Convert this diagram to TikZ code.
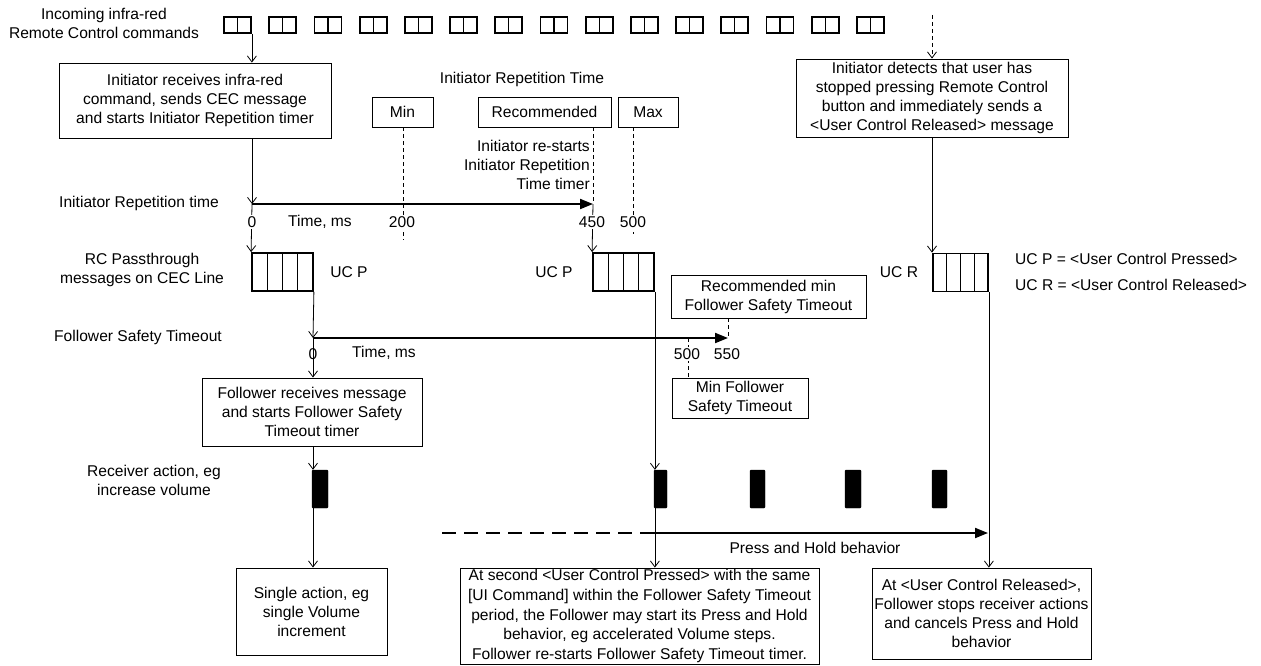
\documentclass[tikz,border=0pt]{standalone}
\usepackage{fontspec}
\setmainfont{Liberation Sans}
\usetikzlibrary{arrows.meta,calc}
\tikzset{
  txt/.style={font=\fontsize{15.6}{19}\selectfont, inner sep=0pt},
  box/.style={draw, line width=0.9pt, align=center, inner sep=0pt, font=\fontsize{15.6}{19}\selectfont},
  conn/.style={line width=0.8pt, -{Straight Barb[length=6pt,width=9pt]}},
  timearrow/.style={line width=2pt, -{Triangle[length=13pt,width=10pt]}},
  dashline/.style={line width=0.8pt, dash pattern=on 4pt off 3pt},
  tick/.style={txt, fill=white, inner sep=1pt},
  irbox/.style={draw, line width=1.8pt, minimum width=27, minimum height=16, inner sep=0pt,
    path picture={\draw[line width=1.2pt] (path picture bounding box.north) -- (path picture bounding box.south);}},
  ucbox/.style={draw, line width=1.8pt, minimum width=61, minimum height=38, inner sep=0pt,
    path picture={\foreach \f in {0.25,0.5,0.75}
      \draw[line width=1pt] ($(path picture bounding box.north west)!\f!(path picture bounding box.north east)$) --
      ($(path picture bounding box.south west)!\f!(path picture bounding box.south east)$);}},
  blk/.style={fill=black, draw=black, rounded corners=1pt, minimum height=38, inner sep=0pt}
}
\begin{document}
\begin{tikzpicture}[x=1pt,y=-1pt]
\useasboundingbox (0,0) rectangle (1261,666);

% left labels
\node[txt, align=center] (lblir) at (104,23) {Incoming infra-red\\Remote Control commands};
\node[txt] (lblirt) at (139,203) {Initiator Repetition time};
\node[txt, align=center] (lblrc) at (142,270) {RC Passthrough\\messages on CEC Line};
\node[txt] (lblfst) at (138,337) {Follower Safety Timeout};
\node[txt, align=center] (lblrx) at (154,480) {Receiver action, eg\\increase volume};

% IR commands
\foreach \i in {0,...,14}
  \node[irbox] (ir\i) at ({237.5+45.2*\i},25) {};

% initiator box
\node[box, minimum width=272, minimum height=75] (initb) at (195,100.5)
  {Initiator receives infra-red\\command, sends CEC message\\and starts Initiator Repetition timer};
\draw[conn] (ir0.south east) -- (initb.north -| ir0.south east);

% initiator repetition timeline
\coordinate (t0) at (252,204);
\coordinate (t450) at (593,204);
\coordinate (m200) at (403,240);
\coordinate (m500) at (633,234);
\node[txt] (irtitle) at (522,79) {Initiator Repetition Time};
\node[box, minimum width=61, minimum height=30] (minb) at (402.5,112) {Min};
\node[box, minimum width=133, minimum height=30] (recb) at (544.5,112) {Recommended};
\node[box, minimum width=60, minimum height=30] (maxb) at (648,112) {Max};
\draw[dashline] (minb.south -| m200) -- (m200);
\draw[dashline] (recb.south -| t450) -- (t450);
\draw[dashline] (maxb.south -| m500) -- (m500);
\draw[conn] (initb.south -| t0) -- (t0);
\draw[timearrow] (t0) -- (t450);
\node[txt, align=right, anchor=east] (restart) at (590,165) {Initiator re-starts\\Initiator Repetition\\Time timer};

% CEC messages
\node[ucbox] (uc1) at (282.5,272) {};
\draw[line width=2.6pt] ([xshift=1pt]uc1.north west) -- ([xshift=1pt]uc1.south west);
\node[ucbox] (uc2) at (623.5,272) {};
\node[ucbox, minimum width=55] (uc3) at (960.5,272.5) {};
\draw[conn] (t0) -- (uc1.north west);
\draw[conn] (t450) -- (uc2.north west);

\node[tick] (l0) at (252,222) {0};
\node[txt] (lms) at (320,222) {Time, ms};
\node[tick] (l200) at (402,222) {200};
\node[tick] (l450) at (592,222) {450};
\node[tick] (l500) at (633,222) {500};

\node[txt] (ucp1) at (349,272) {UC P};
\node[txt] (ucp2) at (554,272) {UC P};
\node[txt] (ucr) at (899,272) {UC R};
\node[txt, anchor=west] (leg1) at (1015,259) {UC P = <User Control Pressed>};
\node[txt, anchor=west] (leg2) at (1015,285) {UC R = <User Control Released>};

% initiator detects
\node[box, minimum width=272, minimum height=78] (detb) at (932,98)
  {Initiator detects that user has\\stopped pressing Remote Control\\button and immediately sends a\\<User Control Released> message};
\coordinate (irend) at (932,15);
\draw[dashline, -{Straight Barb[length=6pt,width=9pt]}] (irend) -- (detb.north);
\draw[conn] (detb.south) -- (detb.south |- uc3.north);

% follower safety timeout
\coordinate (f0) at (313,338);
\coordinate (f550) at (728,338);
\coordinate (f500) at (688,338);
\draw[conn] (uc1.south east) -- (f0);
\draw[timearrow] (f0) -- (f550);
\node[box, minimum width=195, minimum height=43] (recminb) at (768.5,296.5) {Recommended min\\Follower Safety Timeout};
\node[box, minimum width=136, minimum height=40] (minfb) at (740,398) {Min Follower\\Safety Timeout};
\draw[dashline] (recminb.south -| f550) -- (f550);
\draw[dashline] (f500) -- (minfb.north -| f500);
\node[tick] (lf0) at (313,354) {0};
\node[txt] (lfms) at (384,353) {Time, ms};
\node[tick] (lf500) at (687,354) {500};
\node[tick] (lf550) at (727,354) {550};

\node[box, minimum width=220, minimum height=68] (follb) at (312,412)
  {Follower receives message\\and starts Follower Safety\\Timeout timer};
\draw[conn] (f0) -- (follb.north -| f0);

% receiver actions
\node[blk, minimum width=16] (b1) at (320,489) {};
\node[blk, minimum width=13] (b2) at (660.5,489) {};
\node[blk, minimum width=15] (b3) at (757.5,489) {};
\node[blk, minimum width=16] (b4) at (853,489) {};
\node[blk, minimum width=15] (b5) at (939.5,489) {};

\node[box, minimum width=151, minimum height=87] (single) at (311.5,611.5)
  {Single action, eg\\single Volume\\increment};
\node[box, minimum width=359, minimum height=96, font=\fontsize{15.6}{19.6}\selectfont] (centb) at (639.5,616)
  {At second <User Control Pressed> with the same\\[0pt][UI Command] within the Follower Safety Timeout\\period, the Follower may start its Press and Hold\\behavior, eg accelerated Volume steps.\\Follower re-starts Follower Safety Timeout timer.};
\node[box, minimum width=219, minimum height=91] (relb) at (981.5,613.5)
  {At <User Control Released>,\\Follower stops receiver actions\\and cancels Press and Hold\\behavior};

\draw[conn] (follb.south -| f0) -- (b1.north -| f0);
\draw[conn] (b1.south -| f0) -- (single.north -| f0);
\draw[conn] (uc2.south east) -- (b2.north -| uc2.south east);
\draw[conn] (b2.south -| uc2.south east) -- (centb.north -| uc2.south east);
\draw[conn] (uc3.south east) -- (relb.north -| uc3.south east);

% press and hold
\coordinate (ph0) at (442,533);
\coordinate (ph1) at (654,533);
\coordinate (ph2) at (988,533);
\draw[line width=2pt, dash pattern=on 14pt off 8pt] (ph0) -- (ph1);
\draw[timearrow] (ph1) -- (ph2);
\node[txt] (phl) at (815,548) {Press and Hold behavior};
\end{tikzpicture}
\end{document}
